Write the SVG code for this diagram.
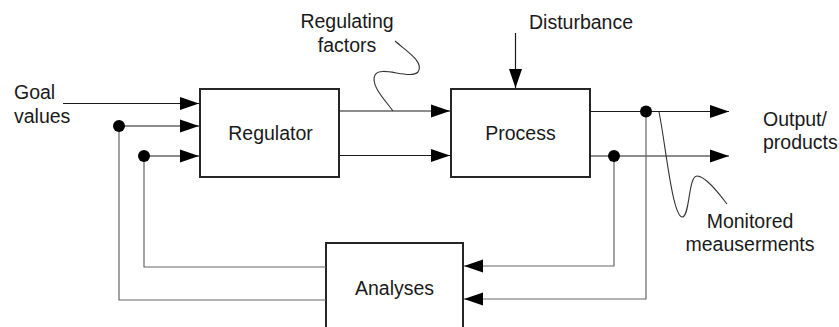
<svg xmlns="http://www.w3.org/2000/svg" width="839" height="327" viewBox="0 0 839 327">
<style>
text{font-family:"Liberation Sans",Arial,sans-serif;font-size:19.5px;fill:#1a1a1a}
.box{fill:#fff;stroke:#262626;stroke-width:2}
.ln{fill:none;stroke:#1a1a1a;stroke-width:1.2}
.fb{fill:none;stroke:#666;stroke-width:1.2}
.sq{fill:none;stroke:#333;stroke-width:1.1}
.dot{fill:#000}
</style>
<defs>
<marker id="ah" markerUnits="userSpaceOnUse" markerWidth="20" markerHeight="14" viewBox="-19 -7 20 14" refX="0" refY="0" orient="auto">
<polygon points="0,0 -19,-6.5 -19,6.5" fill="#000"/>
</marker>
</defs>
<g id="regulator"><rect class="box" x="200" y="89" width="139" height="88"/><text x="270.5" y="140" text-anchor="middle">Regulator</text></g>
<g id="process"><rect class="box" x="451" y="89" width="139" height="88"/><text x="520.5" y="140" text-anchor="middle">Process</text></g>
<g id="analyses"><rect class="box" x="326" y="243" width="137" height="110"/><text x="394.5" y="295" text-anchor="middle">Analyses</text></g>
<g id="labels">
<text x="14" y="99">Goal</text><text x="14" y="123">values</text>
<text x="347" y="28" text-anchor="middle">Regulating</text><text x="347" y="52" text-anchor="middle">factors</text>
<text x="529" y="29">Disturbance</text>
<text x="763" y="126">Output/</text><text x="763" y="149">products</text>
<text x="750" y="228" text-anchor="middle">Monitored</text><text x="750" y="251" text-anchor="middle">meauserments</text>
</g>
<g id="connectors">
<line class="ln" x1="63" y1="103.5" x2="199" y2="103.5" marker-end="url(#ah)"/>
<line class="ln" x1="119" y1="126" x2="199" y2="126" marker-end="url(#ah)"/>
<line class="ln" x1="144" y1="156" x2="199" y2="156" marker-end="url(#ah)"/>
<line class="ln" x1="339" y1="111" x2="450" y2="111" marker-end="url(#ah)"/>
<line class="ln" x1="339" y1="155.5" x2="450" y2="155.5" marker-end="url(#ah)"/>
<line class="ln" x1="515.5" y1="33" x2="515.5" y2="88" marker-end="url(#ah)"/>
<line class="ln" x1="590" y1="111.5" x2="729" y2="111.5" marker-end="url(#ah)"/>
<line class="ln" x1="590" y1="156" x2="729" y2="156" marker-end="url(#ah)"/>
<polyline class="fb" points="614,156 614,266 464,266" marker-end="url(#ah)"/>
<polyline class="fb" points="646,111.5 646,299 464,299" marker-end="url(#ah)"/>
<polyline class="fb" points="326,267 144,267 144,156"/>
<polyline class="fb" points="326,300 119,300 119,126"/>
<circle class="dot" cx="119" cy="126" r="6"/>
<circle class="dot" cx="144" cy="156" r="6"/>
<circle class="dot" cx="614" cy="156" r="6"/>
<circle class="dot" cx="646" cy="111.5" r="6"/>
<path class="sq" d="M395,41 C405,50 425,62 418,72 C410,80 380,65 375,75 C370,85 385,100 393,111"/>
<path class="sq" d="M659,112 C665,140 672,215 682,217 C690,218 688,176 697,176 C706,176 720,195 727,204"/>
</g>
</svg>
